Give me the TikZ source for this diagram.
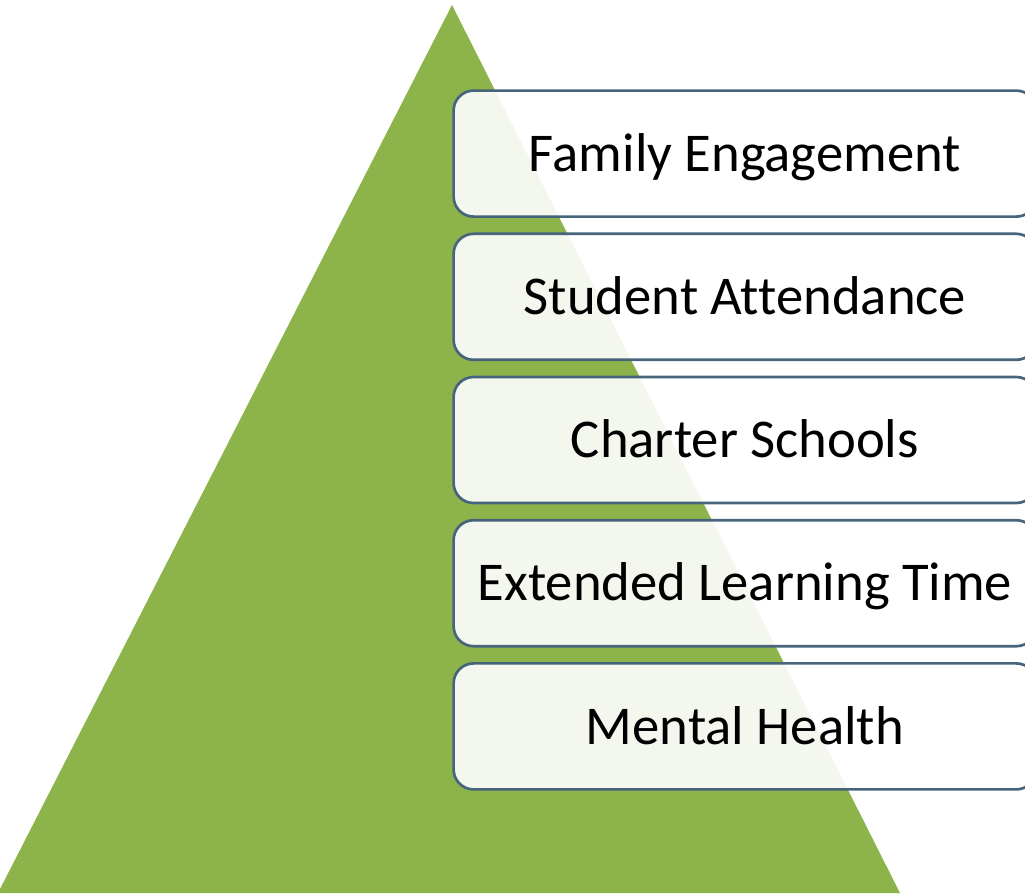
\documentclass[tikz,border=0pt]{standalone}
\usepackage{fontspec}
\setmainfont{Carlito}[Ligatures=CommonOff]
\usetikzlibrary{matrix,positioning}
\definecolor{pyrgreen}{HTML}{8DB34B}
\definecolor{boxedge}{HTML}{46657C}

\begin{document}
\begin{tikzpicture}[x=0.75pt,y=-0.75pt]
  \useasboundingbox (0,0) rectangle (1025,893);
  \clip (0,0) rectangle (1025,893);
  \fill[pyrgreen] (452,5) -- (900,893) -- (-2,893) -- cycle;
  \matrix[anchor=north west, inner sep=0pt, row sep=10.9pt,
    level/.style={draw=boxedge, line width=2pt, fill=white, fill opacity=0.9, text opacity=1,
      rounded corners=15pt, minimum width=437pt, minimum height=94.5pt, inner sep=0pt, outer sep=0pt,
      text height=26.4pt, text depth=0pt, font=\fontsize{41}{45}\selectfont}] at (452,89)
  {
    \node[level] (family) {Family Engagement}; \\
    \node[level] (attend) {Student Attendance}; \\
    \node[level] (charter) {Charter Schools}; \\
    \node[level] (extended) {Extended Learning Time}; \\
    \node[level] (mental) {Mental Health}; \\
  };
\end{tikzpicture}
\end{document}
